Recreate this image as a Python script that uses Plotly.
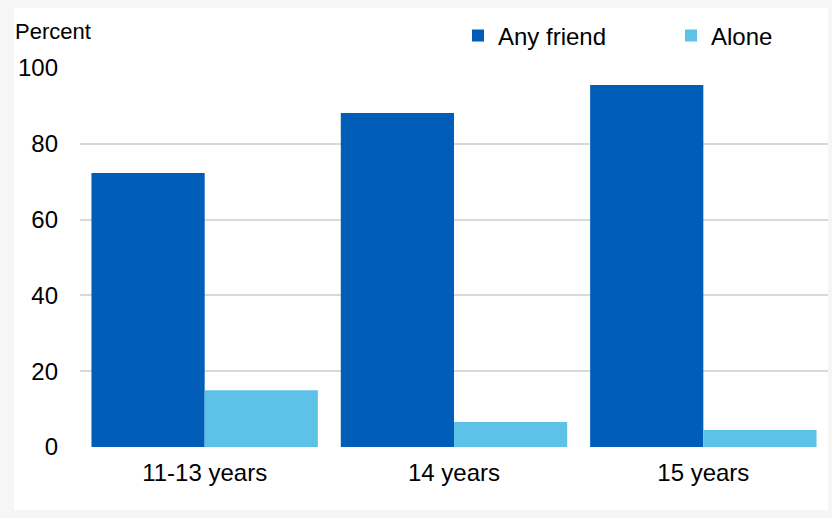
import plotly.graph_objects as go

categories = ["11-13 years", "14 years", "15 years"]
any_friend = [72.3, 88.1, 95.5]
alone = [15.0, 6.6, 4.5]
y_ticks = [0, 20, 40, 60, 80, 100]

W, H = 832, 518
L, R, T, B = 80, 4, 68, 71
pw, ph = W - L - R, H - T - B

def px_x(x):
    return (x - L) / pw

def px_y(y):
    return (H - B - y) / ph

fig = go.Figure()
fig.add_trace(go.Bar(name="Any friend", x=categories, y=any_friend,
                     marker=dict(color="#005EB8", line=dict(width=0))))
fig.add_trace(go.Bar(name="Alone", x=categories, y=alone,
                     marker=dict(color="#5EC1E8", line=dict(width=0))))

font = "Liberation Sans, Arial, sans-serif"
fig.update_layout(
    width=W, height=H,
    margin=dict(l=L, r=R, t=T, b=B, autoexpand=False),
    paper_bgcolor="#f6f6f6",
    plot_bgcolor="white",
    barmode="group", bargap=0.092, bargroupgap=0,
    font=dict(family=font, size=24, color="#000000"),
    legend=dict(orientation="h", x=px_x(458), xanchor="left",
                y=px_y(36), yanchor="middle",
                bgcolor="rgba(0,0,0,0)", font=dict(size=24),
                entrywidth=168, itemwidth=30),
    xaxis=dict(showgrid=False, showline=False, ticks="",
               tickfont=dict(size=24), ticklabelstandoff=9),
    yaxis=dict(range=[0, 100], tickvals=y_ticks, showgrid=True,
               gridcolor="#d9d9d9", gridwidth=2, zeroline=False,
               showline=False, ticks="", tickfont=dict(size=24),
               ticklabelstandoff=21),
    shapes=[dict(type="rect", xref="paper", yref="paper",
                 x0=px_x(14), x1=px_x(828), y0=px_y(510), y1=px_y(8),
                 fillcolor="white", line=dict(width=0), layer="below")],
    annotations=[dict(text="Percent", xref="paper", yref="paper",
                      x=px_x(13), y=px_y(31), xanchor="left", yanchor="middle",
                      showarrow=False, font=dict(size=22))],
)

fig.write_html("out.html",
               config={"displayModeBar": False},
               post_script="document.body.style.margin='0';document.body.style.overflow='hidden';")
